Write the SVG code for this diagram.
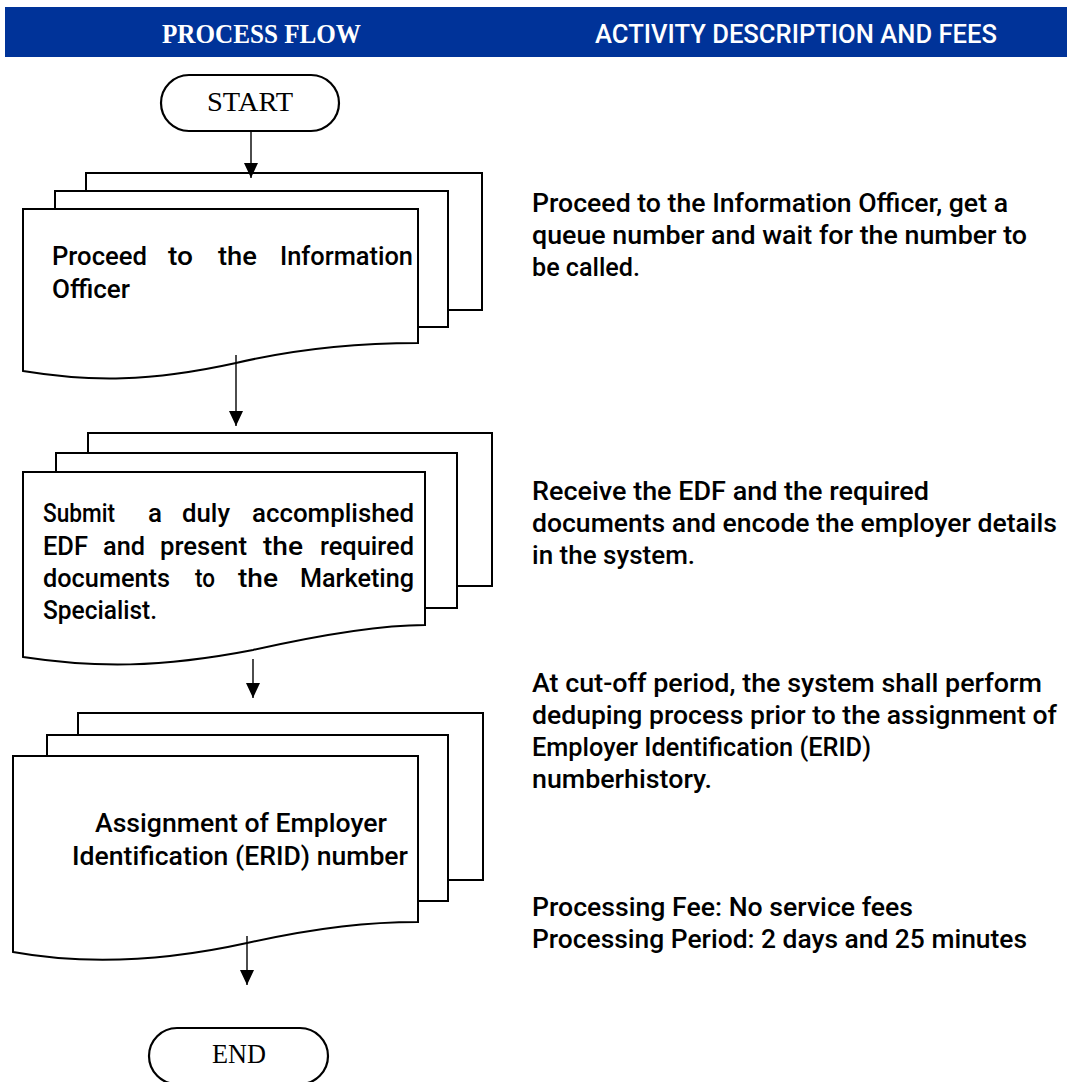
<svg xmlns="http://www.w3.org/2000/svg" width="1067" height="1082" viewBox="0 0 1067 1082">
  <style>
    .sheet { fill: #ffffff; stroke: #000000; stroke-width: 2; }
    .pill { fill: #ffffff; stroke: #000000; stroke-width: 2.2; }
    .flow { stroke: #000000; stroke-width: 1.4; fill: none; }
    .serif { font-family: "Liberation Serif", "DejaVu Serif", serif; fill: #000000; }
    .body { font-family: Roboto, "Noto Sans", "DejaVu Sans", sans-serif; font-size: 25.5px; font-weight: 500; fill: #000000; }
    .head { font-family: "Liberation Serif", "DejaVu Serif", serif; font-size: 28px; font-weight: bold; fill: #ffffff; }
    .headsans { font-family: Roboto, "Noto Sans", sans-serif; font-size: 25px; font-weight: 500; fill: #ffffff; }
  </style>
  <defs>
    <marker id="arrow" markerUnits="userSpaceOnUse" markerWidth="16" markerHeight="16" refX="15" refY="7" orient="auto">
      <path d="M0,0 L15,7 L0,14 Z" fill="#000000"/>
    </marker>
  </defs>

  <rect width="1067" height="1082" fill="#ffffff"/>

  <!-- header band -->
  <g id="header">
    <rect x="5" y="7" width="1062" height="50" fill="#003399"/>
    <text class="head" x="162" y="43" textLength="199" lengthAdjust="spacingAndGlyphs">PROCESS FLOW</text>
    <text class="headsans" x="595" y="43" textLength="402" lengthAdjust="spacingAndGlyphs">ACTIVITY DESCRIPTION AND FEES</text>
  </g>

  <!-- start terminator -->
  <g id="start">
    <rect class="pill" x="161" y="75" width="178" height="56" rx="28" ry="28"/>
    <text class="serif" x="207" y="111" font-size="27" textLength="86" lengthAdjust="spacingAndGlyphs">START</text>
  </g>

  <!-- step 1: multi-document -->
  <g id="step1">
    <rect class="sheet" x="86" y="173" width="396" height="137"/>
    <rect class="sheet" x="55" y="191" width="393" height="136"/>
    <path class="sheet" d="M23,209 L418,209 L418,343 C360,343 300,348 236,363 C150,382 90,382 23,371 Z"/>
    <text class="body" x="52" y="265" textLength="95" lengthAdjust="spacingAndGlyphs">Proceed</text>
    <text class="body" x="168" y="265" textLength="25" lengthAdjust="spacingAndGlyphs">to</text>
    <text class="body" x="218" y="265" textLength="39" lengthAdjust="spacingAndGlyphs">the</text>
    <text class="body" x="280" y="265" textLength="133" lengthAdjust="spacingAndGlyphs">Information</text>
    <text class="body" x="52" y="298" textLength="78" lengthAdjust="spacingAndGlyphs">Officer</text>
  </g>

  <!-- step 2: multi-document -->
  <g id="step2">
    <rect class="sheet" x="88" y="433" width="404" height="153"/>
    <rect class="sheet" x="56" y="453" width="401" height="155"/>
    <path class="sheet" d="M23,472 L425,472 L425,625 C380,625 320,635 253,650 C160,668 95,668 23,657 Z"/>
    <text class="body" x="43" y="522" textLength="72" lengthAdjust="spacingAndGlyphs">Submit</text>
    <text class="body" x="148" y="522" textLength="14" lengthAdjust="spacingAndGlyphs">a</text>
    <text class="body" x="182" y="522" textLength="48" lengthAdjust="spacingAndGlyphs">duly</text>
    <text class="body" x="252" y="522" textLength="162" lengthAdjust="spacingAndGlyphs">accomplished</text>
    <text class="body" x="43" y="555" textLength="45" lengthAdjust="spacingAndGlyphs">EDF</text>
    <text class="body" x="103" y="555" textLength="42" lengthAdjust="spacingAndGlyphs">and</text>
    <text class="body" x="160" y="555" textLength="87" lengthAdjust="spacingAndGlyphs">present</text>
    <text class="body" x="263" y="555" textLength="40" lengthAdjust="spacingAndGlyphs">the</text>
    <text class="body" x="320" y="555" textLength="94" lengthAdjust="spacingAndGlyphs">required</text>
    <text class="body" x="43" y="587" textLength="127" lengthAdjust="spacingAndGlyphs">documents</text>
    <text class="body" x="195" y="587" textLength="20" lengthAdjust="spacingAndGlyphs">to</text>
    <text class="body" x="238" y="587" textLength="40" lengthAdjust="spacingAndGlyphs">the</text>
    <text class="body" x="300" y="587" textLength="114" lengthAdjust="spacingAndGlyphs">Marketing</text>
    <text class="body" x="43" y="619" textLength="114" lengthAdjust="spacingAndGlyphs">Specialist.</text>
  </g>

  <!-- step 3: multi-document -->
  <g id="step3">
    <rect class="sheet" x="78" y="713" width="405" height="167"/>
    <rect class="sheet" x="47" y="735" width="401" height="166"/>
    <path class="sheet" d="M13,756 L418,756 L418,922 C370,922 320,927 247,943 C170,960 90,966 13,952 Z"/>
    <text class="body" x="95" y="832" textLength="292" lengthAdjust="spacingAndGlyphs">Assignment of Employer</text>
    <text class="body" x="72" y="865" textLength="336" lengthAdjust="spacingAndGlyphs">Identification (ERID) number</text>
  </g>

  <!-- end terminator -->
  <g id="end">
    <rect class="pill" x="149" y="1028" width="179" height="56" rx="28" ry="28"/>
    <text class="serif" x="212" y="1063" font-size="27" textLength="54" lengthAdjust="spacingAndGlyphs">END</text>
  </g>

  <!-- connectors -->
  <g id="connectors">
    <line class="flow" x1="251" y1="131" x2="251" y2="178" marker-end="url(#arrow)"/>
    <line class="flow" x1="236" y1="355" x2="236" y2="426" marker-end="url(#arrow)"/>
    <line class="flow" x1="253" y1="659" x2="253" y2="698" marker-end="url(#arrow)"/>
    <line class="flow" x1="247" y1="936" x2="247" y2="985" marker-end="url(#arrow)"/>
  </g>

  <!-- activity descriptions -->
  <g id="descriptions">
    <text class="body" x="532" y="212" textLength="476" lengthAdjust="spacingAndGlyphs">Proceed to the Information Officer, get a</text>
    <text class="body" x="532" y="244" textLength="495" lengthAdjust="spacingAndGlyphs">queue number and wait for the number to</text>
    <text class="body" x="532" y="276" textLength="108" lengthAdjust="spacingAndGlyphs">be called.</text>

    <text class="body" x="532" y="500" textLength="397" lengthAdjust="spacingAndGlyphs">Receive the EDF and the required</text>
    <text class="body" x="532" y="532" textLength="525" lengthAdjust="spacingAndGlyphs">documents and encode the employer details</text>
    <text class="body" x="532" y="564" textLength="163" lengthAdjust="spacingAndGlyphs">in the system.</text>

    <text class="body" x="532" y="692" textLength="510" lengthAdjust="spacingAndGlyphs">At cut-off period, the system shall perform</text>
    <text class="body" x="532" y="724" textLength="525" lengthAdjust="spacingAndGlyphs">deduping process prior to the assignment of</text>
    <text class="body" x="532" y="756" textLength="339" lengthAdjust="spacingAndGlyphs">Employer Identification (ERID)</text>
    <text class="body" x="532" y="788" textLength="180" lengthAdjust="spacingAndGlyphs">numberhistory.</text>

    <text class="body" x="532" y="916" textLength="381" lengthAdjust="spacingAndGlyphs">Processing Fee: No service fees</text>
    <text class="body" x="532" y="948" textLength="495" lengthAdjust="spacingAndGlyphs">Processing Period: 2 days and 25 minutes</text>
  </g>
</svg>
